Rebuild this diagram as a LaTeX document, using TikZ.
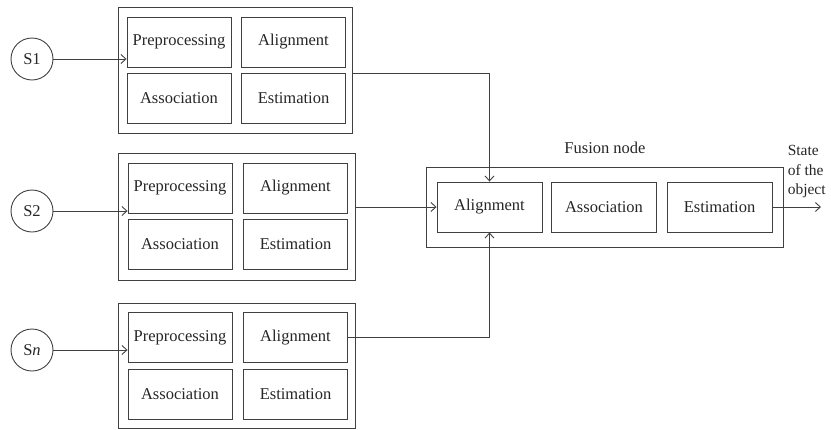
\documentclass[tikz,border=0pt]{standalone}
\usepackage{fontspec}
\setmainfont{Liberation Serif}
\usetikzlibrary{arrows.meta}
\begin{document}
\begin{tikzpicture}[x=1pt,y=-1pt,
  line width=0.9pt,
  every node/.style={text=black!85},
  frame/.style={draw=black!75, minimum width=#1, inner sep=0pt},
  cell/.style={draw=black!75, minimum width=104pt, minimum height=50pt,
    inner sep=0pt, font=\fontsize{16.5}{19}\selectfont},
  sensor/.style={draw=black!75, circle, minimum size=42pt, inner sep=0pt,
    font=\fontsize{16.5}{19}\selectfont},
  link/.style={draw=black!75, -{Straight Barb[length=5pt,width=9pt]}},
  lbl/.style={font=\fontsize{16.5}{19}\selectfont}
]
\useasboundingbox (0,0) rectangle (831,429);

% sensors
\node[sensor] (s1) at (32,59) {S1};
\node[sensor] (s2) at (32,211) {S2};
\node[sensor] (sn) at (32,350) {S\textit{n}};

% local processing block of sensor 1
\node[frame=234pt, minimum height=126pt] (b1) at (235,70) {};
\node[cell] (p1) at (179,42) {Preprocessing};
\node[cell] (a1) at (293.5,42) {Alignment};
\node[cell] (c1) at (179,98) {Association};
\node[cell] (e1) at (293.5,98) {Estimation};

% local processing block of sensor 2
\node[frame=237pt, minimum height=127pt] (b2) at (236.5,216.5) {};
\node[cell] (p2) at (180,188) {Preprocessing};
\node[cell] (a2) at (295.5,188) {Alignment};
\node[cell] (c2) at (180,244.5) {Association};
\node[cell] (e2) at (295.5,244.5) {Estimation};

% local processing block of sensor n
\node[frame=237pt, minimum height=125pt] (b3) at (236.5,365.5) {};
\node[cell] (p3) at (180,337.5) {Preprocessing};
\node[cell] (a3) at (295.5,337.5) {Alignment};
\node[cell] (c3) at (180,394) {Association};
\node[cell] (e3) at (295.5,394) {Estimation};

% fusion node
\node[frame=357pt, minimum height=80pt] (fn) at (604.5,207) {};
\node[cell, minimum width=105pt] (fa) at (489.5,207) {Alignment};
\node[cell, minimum width=105pt] (fc) at (604,207) {Association};
\node[cell, minimum width=105pt] (fe) at (719.5,207) {Estimation};
\node[lbl] (ft) at (605,148) {Fusion node};
\node[lbl, anchor=west, align=left, font=\fontsize{15.5}{19.5}\selectfont]
  (st) at (784,172) {State\\of the\\object};
\coordinate (out) at (821,207);

% connectors
\draw[link] (s1.east) -- (s1.east -| p1.west);
\draw[link] (s2.east) -- (s2.east -| p2.west);
\draw[link] (sn.east) -- (sn.east -| p3.west);
\draw[link] ([yshift=-3pt]b1.east) -| (fa.north);
\draw[link] (fa.west -| b2.east) -- (fa.west);
\draw[link] (a3.east) -| (fa.south);
\draw[link] (fe.east) -- (out);
\end{tikzpicture}
\end{document}
